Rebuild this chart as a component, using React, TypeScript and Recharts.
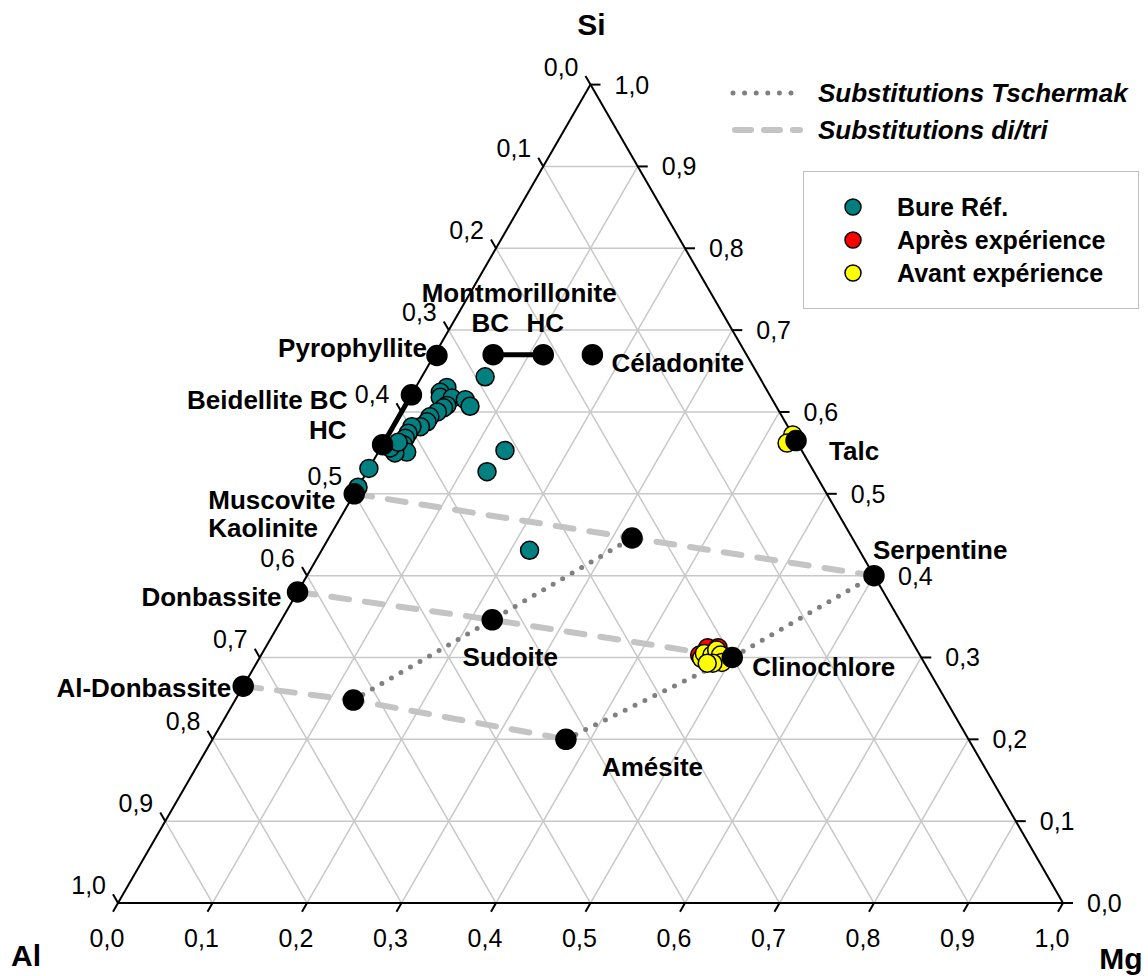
import React from "react";
import { ScatterChart, Scatter, XAxis, YAxis } from "recharts";

document.body.style.margin = "0";

const FONT = '"Liberation Sans", Arial, Helvetica, sans-serif';

// ternary values: Si and Mg fractions (Al = 1 - Si - Mg)
const BURE_SI = [0.643, 0.63, 0.624, 0.618, 0.617, 0.608, 0.615, 0.607, 0.605, 0.6, 0.594, 0.588, 0.582, 0.582, 0.574, 0.568, 0.56, 0.556, 0.551, 0.55, 0.556, 0.563, 0.553, 0.527, 0.531, 0.508, 0.431];
const BURE_MG = [0.067, 0.033, 0.029, 0.032, 0.045, 0.044, 0.06, 0.069, 0.042, 0.038, 0.033, 0.033, 0.029, 0.02, 0.02, 0.02, 0.022, 0.017, 0.03, 0.018, 0.01, 0.015, 0.133, 0.127, 0.0, 0.0, 0.22];

const APRES_SI = [0.303, 0.312, 0.312];
const APRES_MG = [0.464, 0.468, 0.479];

const AVANT_SI = [0.299, 0.305, 0.303, 0.309, 0.303, 0.294, 0.293, 0.293, 0.572, 0.562];
const AVANT_MG = [0.468, 0.468, 0.477, 0.479, 0.486, 0.492, 0.483, 0.477, 0.428, 0.427];

const MINERALS = ["Pyrophyllite", "Montmorillonite BC", "Montmorillonite HC", "Céladonite", "Beidellite BC", "Beidellite HC", "Muscovite", "Donbassite", "Al-Donbassite", "Talc", "Serpentine", "Clinochlore", "Amésite", "Sudoite", "Chlorite 1", "Chlorite 2"];
const MINERAL_SI = [0.669, 0.67, 0.67, 0.67, 0.621, 0.56, 0.5, 0.38, 0.265, 0.565, 0.4, 0.3, 0.2, 0.346, 0.446, 0.248];
const MINERAL_MG = [0.003, 0.062, 0.115, 0.167, 0.0, 0.0, 0.0, 0.0, 0.0, 0.435, 0.6, 0.5, 0.374, 0.223, 0.321, 0.125];

const TSCHERMAK = [
  ["Chlorite 2", "Sudoite", "Chlorite 1"],
  ["Amésite", "Clinochlore", "Serpentine"],
];
const DI_TRI = [
  ["Muscovite", "Chlorite 1", "Serpentine"],
  ["Donbassite", "Sudoite", "Clinochlore"],
  ["Al-Donbassite", "Chlorite 2", "Amésite"],
];
const JOINS = [
  ["Montmorillonite BC", "Montmorillonite HC"],
  ["Beidellite BC", "Beidellite HC"],
];

const TICKS = [0, 0.1, 0.2, 0.3, 0.4, 0.5, 0.6, 0.7, 0.8, 0.9, 1];
const TICK_TEXT = ["0,0", "0,1", "0,2", "0,3", "0,4", "0,5", "0,6", "0,7", "0,8", "0,9", "1,0"];

// label placement (pixel offsets from the mineral point)
const LABEL_SPOTS = [
  { text: "Montmorillonite", at: "Montmorillonite BC", dx: 26, dy: -62, anchor: "middle" },
  { text: "BC", at: "Montmorillonite BC", dx: -3, dy: -32, anchor: "middle" },
  { text: "HC", at: "Montmorillonite HC", dx: 2, dy: -32, anchor: "middle" },
  { text: "Pyrophyllite", at: "Pyrophyllite", dx: -10, dy: -7, anchor: "end" },
  { text: "Céladonite", at: "Céladonite", dx: 19, dy: 8, anchor: "start" },
  { text: "Beidellite BC", at: "Beidellite BC", dx: -64, dy: 5, anchor: "end" },
  { text: "HC", at: "Beidellite HC", dx: -36, dy: -15, anchor: "end" },
  { text: "Muscovite", at: "Muscovite", dx: -146, dy: 6, anchor: "start" },
  { text: "Kaolinite", at: "Muscovite", dx: -146, dy: 34, anchor: "start" },
  { text: "Donbassite", at: "Donbassite", dx: -16, dy: 5, anchor: "end" },
  { text: "Al-Donbassite", at: "Al-Donbassite", dx: -12, dy: 2, anchor: "end" },
  { text: "Talc", at: "Talc", dx: 33, dy: 10, anchor: "start" },
  { text: "Serpentine", at: "Serpentine", dx: -1, dy: -26, anchor: "start" },
  { text: "Clinochlore", at: "Clinochlore", dx: 20, dy: 10, anchor: "start" },
  { text: "Amésite", at: "Amésite", dx: 36, dy: 28, anchor: "start" },
  { text: "Sudoite", at: "Sudoite", dx: 18, dy: 37, anchor: "middle" },
];

const TICK_OFFSET: Record<string, { dx: number; dy: number; anchor: string }> = {
  left: { dx: -12, dy: -18, anchor: "end" },
  right: { dx: 24, dy: 0, anchor: "start" },
  bottom: { dx: -11, dy: 35, anchor: "middle" },
};

const SQ = Math.sqrt(3) / 2;
const tern = (si: number, mg: number) => ({ x: mg + si / 2, y: si * SQ });
const pts = (si: number[], mg: number[]) => si.map((s, i) => tern(s, mg[i]));
const mineral = (n: string) => {
  const i = MINERALS.indexOf(n);
  return tern(MINERAL_SI[i], MINERAL_MG[i]);
};

const X_DOMAIN = [-118 / 945, 1030 / 945];
const Y_DOMAIN = [-73 / 945, 903 / 945];
const TICK_LEN = 0.0106;

const grid: { x: number; y: number }[][] = [];
TICKS.slice(1, -1).forEach((t) => {
  grid.push([tern(t, 0), tern(t, 1 - t)]);
  grid.push([tern(0, t), tern(1 - t, t)]);
  grid.push([tern(0, 1 - t), tern(1 - t, 0)]);
});
const edges = [
  [tern(0, 0), tern(0, 1)],
  [tern(0, 1), tern(1, 0)],
  [tern(1, 0), tern(0, 0)],
];
const tickSegs: { x: number; y: number }[][] = [];
const tickLabels: any[] = [];
TICKS.forEach((t, i) => {
  const b = tern(0, t);
  tickSegs.push([b, { x: b.x - TICK_LEN / 2, y: b.y - TICK_LEN * SQ }]);
  tickLabels.push({ ...b, text: TICK_TEXT[i], side: "bottom" });
  const r = tern(t, 1 - t);
  tickSegs.push([r, { x: r.x + TICK_LEN, y: r.y }]);
  tickLabels.push({ ...r, text: TICK_TEXT[i], side: "right" });
  const l = tern(1 - t, 0);
  tickSegs.push([l, { x: l.x - TICK_LEN / 2, y: l.y + TICK_LEN * SQ }]);
  tickLabels.push({ ...l, text: TICK_TEXT[i], side: "left" });
});

const vertexLabels = [
  { ...tern(1, 0), text: "Si", dx: 1, dy: -60 },
  { ...tern(0, 0), text: "Al", dx: -92, dy: 52 },
  { ...tern(0, 1), text: "Mg", dx: 58, dy: 55 },
];

const mineralLabels = LABEL_SPOTS.map((l) => ({ ...mineral(l.at), ...l }));

const Nothing = () => <g />;
const dot = (fill: string, r: number) => (p: any) => (
  <circle cx={p.cx} cy={p.cy} r={r} fill={fill} stroke="#000" strokeWidth={1.5} />
);

const tickText = (p: any) => {
  const d = p.payload;
  const o = TICK_OFFSET[d.side];
  return (
    <text x={p.cx + o.dx} y={p.cy + o.dy} textAnchor={o.anchor} dominantBaseline="central" fontSize={25} fontFamily={FONT} fill="#000">
      {d.text}
    </text>
  );
};

const boldText = (size: number) => (p: any) => {
  const d = p.payload;
  return (
    <text x={p.cx + d.dx} y={p.cy + d.dy} textAnchor={d.anchor || "middle"} dominantBaseline="central" fontSize={size} fontWeight="bold" fontFamily={FONT} fill="#000">
      {d.text}
    </text>
  );
};

const segment = (key: string, data: any[], style: any) => (
  <Scatter key={key} data={data} line={style} shape={Nothing} legendType="none" isAnimationActive={false} />
);

const GRID_STYLE = { stroke: "#c8c8c8", strokeWidth: 1.5 };
const EDGE_STYLE = { stroke: "#000", strokeWidth: 2 };
const TICK_STYLE = { stroke: "#000", strokeWidth: 2 };
const DASH_STYLE = { stroke: "#c4c4c4", strokeWidth: 6, strokeDasharray: "18 16", strokeLinecap: "round" };
const DOT_STYLE = { stroke: "#808080", strokeWidth: 5, strokeDasharray: "0 11", strokeLinecap: "round" };
const JOIN_STYLE = { stroke: "#000", strokeWidth: 5 };

function Legends() {
  return (
    <svg width={1148} height={976} style={{ position: "absolute", left: 0, top: 0, pointerEvents: "none" }}>
      <line x1={733} x2={800} y1={93} y2={93} stroke="#808080" strokeWidth={5} strokeDasharray="0 11.6" strokeLinecap="round" />
      <text x={818} y={93} dominantBaseline="central" fontSize={26} fontWeight="bold" fontStyle="italic" fontFamily={FONT}>
        Substitutions Tschermak
      </text>
      <line x1={735} x2={800} y1={130} y2={130} stroke="#c4c4c4" strokeWidth={6} strokeDasharray="16 13" strokeLinecap="round" />
      <text x={818} y={130} dominantBaseline="central" fontSize={26} fontWeight="bold" fontStyle="italic" fontFamily={FONT}>
        Substitutions di/tri
      </text>
      <rect x={803.5} y={171.5} width={335} height={137} fill="#fff" stroke="#c0c0c0" strokeWidth={1} />
      {[
        ["#008080", "Bure Réf."],
        ["#ff0000", "Après expérience"],
        ["#ffff00", "Avant expérience"],
      ].map(([c, t], i) => (
        <g key={t}>
          <circle cx={853} cy={207 + i * 33} r={8} fill={c} stroke="#000" strokeWidth={1.5} />
          <text x={897} y={207 + i * 33} dominantBaseline="central" fontSize={25} fontWeight="bold" fontFamily={FONT}>
            {t}
          </text>
        </g>
      ))}
    </svg>
  );
}

export default function App() {
  return (
    <div style={{ position: "relative", width: 1148, height: 976, overflow: "hidden", background: "#fff" }}>
      <ScatterChart width={1148} height={976} margin={{ top: 0, right: 0, bottom: 0, left: 0 }}>
        <XAxis type="number" dataKey="x" domain={X_DOMAIN} hide allowDataOverflow />
        <YAxis type="number" dataKey="y" domain={Y_DOMAIN} hide allowDataOverflow />
        {grid.map((g, i) => segment(`grid${i}`, g, GRID_STYLE))}
        {edges.map((g, i) => segment(`edge${i}`, g, EDGE_STYLE))}
        {tickSegs.map((g, i) => segment(`tick${i}`, g, TICK_STYLE))}
        {DI_TRI.map((names, i) => segment(`ditri${i}`, names.map(mineral), DASH_STYLE))}
        {TSCHERMAK.map((names, i) => segment(`tsch${i}`, names.map(mineral), DOT_STYLE))}
        <Scatter name="Bure Réf." data={pts(BURE_SI, BURE_MG)} shape={dot("#008080", 9)} isAnimationActive={false} />
        {JOINS.map((names, i) => segment(`join${i}`, names.map(mineral), JOIN_STYLE))}
        <Scatter name="Après expérience" data={pts(APRES_SI, APRES_MG)} shape={dot("#ff0000", 9)} isAnimationActive={false} />
        <Scatter name="Avant expérience" data={pts(AVANT_SI, AVANT_MG)} shape={dot("#ffff00", 9)} isAnimationActive={false} />
        <Scatter name="Minéraux" data={MINERALS.map(mineral)} shape={dot("#000", 10)} isAnimationActive={false} />
        <Scatter data={tickLabels} shape={tickText} legendType="none" isAnimationActive={false} />
        <Scatter data={mineralLabels} shape={boldText(26)} legendType="none" isAnimationActive={false} />
        <Scatter data={vertexLabels} shape={boldText(30)} legendType="none" isAnimationActive={false} />
      </ScatterChart>
      <Legends />
    </div>
  );
}
